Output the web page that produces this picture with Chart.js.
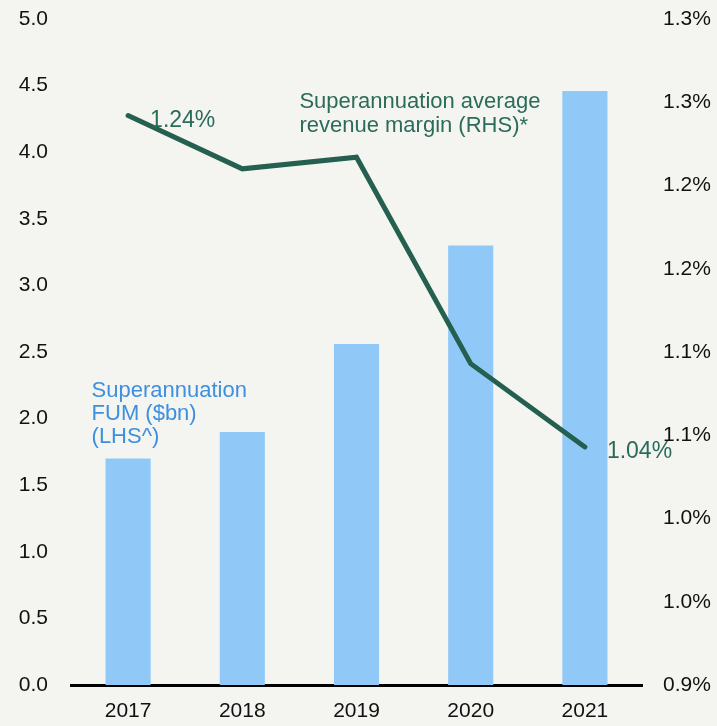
<!DOCTYPE html>
<html>
<head>
<meta charset="utf-8">
<script src="https://cdn.jsdelivr.net/npm/chart.js@4"></script>
<style>
html,body{margin:0;padding:0;background:#f4f4f0;}
canvas{display:block;}
</style>
</head>
<body>
<canvas id="c" width="717" height="726"></canvas>
<script>
const years = ['2017','2018','2019','2020','2021'];
const fum = [1.70, 1.90, 2.56, 3.30, 4.46];
const margin = [1.242, 1.210, 1.217, 1.093, 1.043];
const marginLabels = ['1.24%', '', '', '', '1.04%'];
const rightTickLabels = ['0.9%','1.0%','1.0%','1.1%','1.1%','1.2%','1.2%','1.3%','1.3%'];
const fumLabel = ['Superannuation', 'FUM ($bn)', '(LHS^)'];
const marginLabel = ['Superannuation average', 'revenue margin (RHS)*'];

const FONT = '"Liberation Sans", Arial, sans-serif';
const GREEN = '#255f50';
const BLUE = '#90c9f7';
const BLUE_TEXT = '#3d8fe0';

const annot = {
  id: 'annot',
  afterDatasetsDraw(chart) {
    const ctx = chart.ctx;
    const x = chart.scales.x, y = chart.scales.y;
    const meta = chart.getDatasetMeta(1);
    ctx.save();
    ctx.textBaseline = 'middle';
    ctx.textAlign = 'left';
    ctx.font = '23px ' + FONT;
    ctx.fillStyle = '#2b6b5a';
    meta.data.forEach((pt, i) => {
      if (marginLabels[i]) ctx.fillText(marginLabels[i], pt.x + 22, pt.y + 5);
    });
    ctx.font = '22px ' + FONT;
    ctx.fillStyle = '#2b6b5a';
    const mx = x.getPixelForValue(1.5);
    [4.378, 4.198].forEach((v, i) => ctx.fillText(marginLabel[i], mx, y.getPixelForValue(v)));
    ctx.fillStyle = BLUE_TEXT;
    const fx = x.getPixelForValue(-0.32);
    [2.207, 2.035, 1.862].forEach((v, i) => ctx.fillText(fumLabel[i], fx, y.getPixelForValue(v)));
    ctx.restore();
  }
};

new Chart(document.getElementById('c'), {
  type: 'bar',
  data: {
    labels: years,
    datasets: [
      {
        type: 'bar', data: fum, yAxisID: 'y', backgroundColor: BLUE,
        barPercentage: 0.395, categoryPercentage: 1, order: 2
      },
      {
        type: 'line', data: margin, yAxisID: 'y1', borderColor: GREEN, borderWidth: 5,
        pointRadius: 0, tension: 0, fill: false, order: 1, borderCapStyle: 'round'
      }
    ]
  },
  options: {
    responsive: false,
    animation: false,
    events: [],
    layout: { padding: { top: 19, left: 0, right: 0, bottom: 0 } },
    plugins: { legend: { display: false }, tooltip: { enabled: false } },
    scales: {
      x: {
        grid: { display: false, drawTicks: false, tickLength: 0 },
        border: { display: true, color: '#000', width: 3 },
        ticks: { color: '#111', font: { family: FONT, size: 21 }, padding: 14 },
        afterFit(s) { s.height = 41; s.paddingLeft = 0; s.paddingRight = 0; }
      },
      y: {
        position: 'left', min: 0, max: 5,
        grid: { display: false, drawTicks: false, tickLength: 0 },
        border: { display: false },
        ticks: { stepSize: 0.5, color: '#111', font: { family: FONT, size: 21 }, padding: 23,
          callback: v => Number(v).toFixed(1) },
        afterFit(s) { s.width = 71; s.paddingTop = 0; s.paddingBottom = 0; }
      },
      y1: {
        position: 'right', min: 0.9, max: 1.3,
        grid: { display: false, drawTicks: false, tickLength: 0 },
        border: { display: false },
        ticks: { stepSize: 0.05, color: '#111', font: { family: FONT, size: 21 }, padding: 21,
          callback: (v, i) => rightTickLabels[i] },
        afterFit(s) { s.width = 75; s.paddingTop = 0; s.paddingBottom = 0; }
      }
    }
  },
  plugins: [annot]
});
</script>
</body>
</html>
